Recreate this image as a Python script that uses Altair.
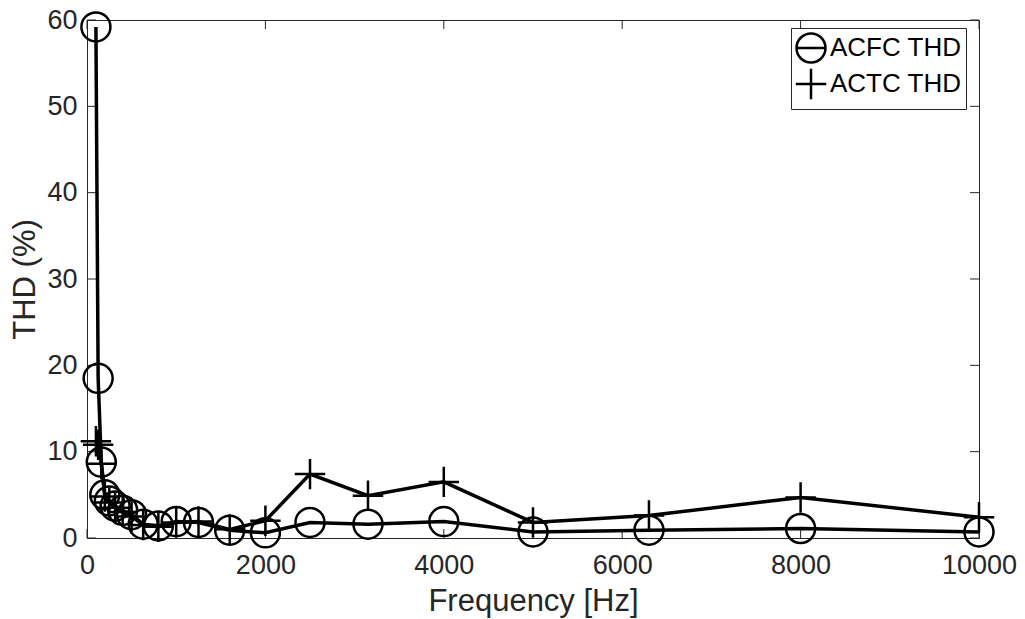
import altair as alt
import pandas as pd

# ---- data ----
freqs = [100, 125, 160, 200, 250, 315, 400, 500, 630, 800, 1000, 1250,
         1600, 2000, 2500, 3150, 4000, 5000, 6300, 8000, 10000]
acfc_thd = [59.2, 18.5, 8.8, 5.0, 4.3, 3.7, 3.2, 2.7, 1.6, 1.4, 1.9, 1.8,
            0.9, 0.6, 1.8, 1.6, 1.9, 0.7, 0.9, 1.1, 0.7]
actc_thd = [11.2, 10.8, 8.6, 4.8, 4.1, 3.5, 3.0, 2.5, 1.5, 1.3, 1.8, 1.9,
            1.0, 2.0, 7.4, 4.9, 6.5, 1.8, 2.6, 4.7, 2.4]
series_names = ["ACFC THD", "ACTC THD"]
x_ticks = [0, 2000, 4000, 6000, 8000, 10000]
y_ticks = [0, 10, 20, 30, 40, 50, 60]

df = pd.DataFrame({
    "freq": freqs * 2,
    "thd": acfc_thd + actc_thd,
    "series": [series_names[0]] * len(freqs) + [series_names[1]] * len(freqs),
})

W, H = 892, 518
FONT = "Liberation Sans"
INK = "#262626"
MSIZE = 841

circle_path = "M-1,0A1,1,0,1,1,1,0A1,1,0,1,1,-1,0Z"
plus_path = "M-1.05,0H1.05M0,-1.05V1.05"
circle_line_path = "M-1,0A1,1,0,1,1,1,0A1,1,0,1,1,-1,0ZM-1,0H1"

x_scale = alt.Scale(domain=[0, 10000], nice=False, zero=False)
y_scale = alt.Scale(domain=[0, 60], nice=False)
x_axis = alt.Axis(values=x_ticks, title="Frequency [Hz]", tickSize=0, domain=False,
                  grid=False, labelPadding=14, titlePadding=8, labelFlush=False,
                  format="d")
y_axis = alt.Axis(values=y_ticks, title="THD (%)", tickSize=0, domain=False,
                  grid=False, labelPadding=10, titlePadding=5)

X = alt.X("freq:Q", scale=x_scale, axis=x_axis)
Y = alt.Y("thd:Q", scale=y_scale, axis=y_axis)

base = alt.Chart(df)

lines = base.mark_line(color="black", strokeWidth=3.5).encode(
    x=X, y=Y, detail="series:N", order="freq:Q")

points = base.mark_point(filled=False, stroke="black", strokeWidth=2.5,
                         size=MSIZE, opacity=1).encode(
    x=X, y=Y,
    shape=alt.Shape("series:N",
                    scale=alt.Scale(domain=series_names, range=[circle_path, plus_path]),
                    legend=None))

legend_layer = base.mark_point(filled=False, stroke="black", opacity=0, size=MSIZE).encode(
    x=X, y=Y,
    shape=alt.Shape("series:N",
                    scale=alt.Scale(domain=series_names, range=[circle_line_path, plus_path]),
                    legend=alt.Legend(title=None, orient="none", legendX=704, legendY=8,
                                      symbolOpacity=1, symbolStrokeColor="black",
                                      symbolFillColor="transparent", symbolStrokeWidth=2.5,
                                      symbolSize=MSIZE, labelFontSize=26, labelFont=FONT,
                                      labelColor="black", labelOffset=3,
                                      rowPadding=-15, padding=4,
                                      strokeColor=INK, fillColor="white")))

xt = pd.DataFrame({"freq": x_ticks, "thd": [0] * len(x_ticks)})
yt = pd.DataFrame({"freq": [0] * len(y_ticks), "thd": y_ticks})

xt_bottom = alt.Chart(xt).mark_rule(color=INK, strokeWidth=1).encode(
    x=X, y=alt.value(H), y2=alt.value(H - 9))
xt_top = alt.Chart(xt).mark_rule(color=INK, strokeWidth=1).encode(
    x=X, y=alt.value(0), y2=alt.value(9))
yt_left = alt.Chart(yt).mark_rule(color=INK, strokeWidth=1).encode(
    y=Y, x=alt.value(0), x2=alt.value(9))
yt_right = alt.Chart(yt).mark_rule(color=INK, strokeWidth=1).encode(
    y=Y, x=alt.value(W), x2=alt.value(W - 9))

chart = alt.layer(xt_bottom, xt_top, yt_left, yt_right, lines, points, legend_layer).resolve_scale(
    shape="independent"
).properties(
    width=W, height=H,
    autosize=alt.AutoSizeParams(type="none"),
    padding={"left": 87, "top": 20, "right": 46, "bottom": 81},
    background="white",
).configure_view(
    stroke=INK, strokeWidth=1
).configure_axis(
    labelFont=FONT, labelFontSize=27, labelColor=INK,
    titleFont=FONT, titleFontSize=31, titleFontWeight="normal", titleColor=INK,
)

chart.save("out.html", embed_options={"renderer": "svg", "actions": False})
